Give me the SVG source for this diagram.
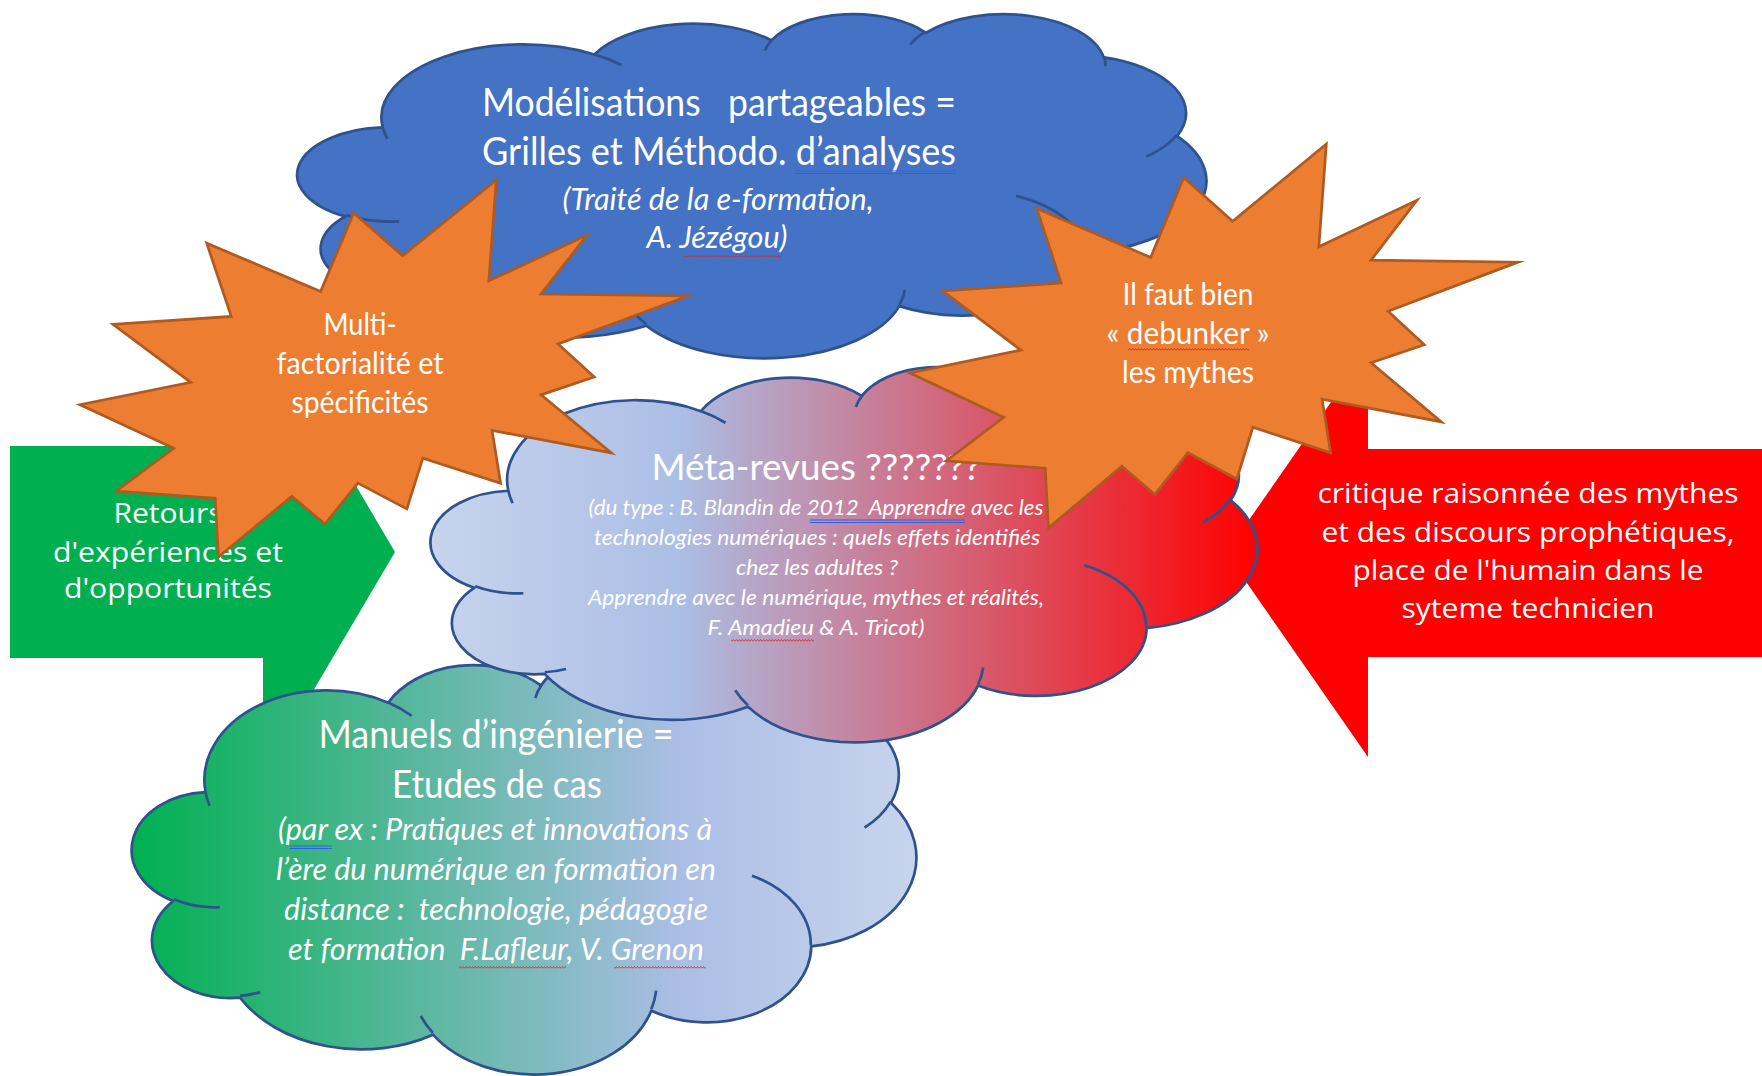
<svg xmlns="http://www.w3.org/2000/svg" width="1762" height="1076" viewBox="0 0 1762 1076">
<defs>
<style>
.cloud{stroke:#2F528F;stroke-width:2.7;stroke-linejoin:round}
.crease{fill:none;stroke:#2F528F;stroke-width:2.7}
.star{fill:#ED7D31;stroke:#AE5A21;stroke-width:2.7;stroke-linejoin:miter;stroke-miterlimit:10}
.t{font-family:Lato,'Liberation Sans',sans-serif;fill:#FFFFFF;text-anchor:middle}
.ti{font-family:Lato,'Liberation Sans',sans-serif;font-style:italic;fill:#FFFFFF;text-anchor:middle}
.ta{font-family:'Open Sans','Liberation Sans',sans-serif;fill:#FFFFFF;text-anchor:middle}
.blueul{stroke:#2E62E6;stroke-width:1;fill:none}
</style>
<linearGradient id="gMeta" x1="0" y1="0" x2="1" y2="0">
<stop offset="0" stop-color="#C7D4ED"/>
<stop offset="0.3" stop-color="#ABBEE5"/>
<stop offset="1" stop-color="#FF0000"/>
</linearGradient>
<linearGradient id="gMan" x1="0" y1="0" x2="1" y2="0">
<stop offset="0" stop-color="#00B050"/>
<stop offset="0.7" stop-color="#ABBEE5"/>
<stop offset="1" stop-color="#C7D4ED"/>
</linearGradient>
<pattern id="wavy" width="3" height="3" patternUnits="userSpaceOnUse">
<path d="M0 2.5 L1.5 0.5 L3 2.5" fill="none" stroke="#E02020" stroke-width="0.8"/>
</pattern>
<path id="cloudOutline" vector-effect="non-scaling-stroke" d="M3900 14370 A6753 9190 0 0 1 14006 5203 A5333 7267 0 0 1 22457 3433 A4365 5945 0 0 1 29834 2482 A4857 6595 0 0 1 38319 5578 A5333 7273 0 0 1 41820 15462 A6775 9220 0 0 1 37406 30205 A5785 7867 0 0 1 28558 36815 A6752 9215 0 0 1 16482 39266 A7720 10543 0 0 1 5806 35473 A4360 5918 0 0 1 2115 25551 A4345 5945 0 0 1 3900 14370 Z"/>
<path id="cloudCreases" fill="none" vector-effect="non-scaling-stroke" d="M4693 26177 A4345 5945 0 0 1 2159 25380 M6928 34899 A4360 5918 0 0 1 5820 35280 M16478 39090 A6752 9215 0 0 1 15810 37350 M28827 34751 A6752 9215 0 0 1 28560 36660 M34129 22954 A5785 7867 0 0 1 37380 30090 M41798 15354 A5333 7273 0 0 1 40350 18030 M38324 5426 A4857 6595 0 0 1 38400 6690 M29078 3952 A4857 6595 0 0 1 29820 2340 M22141 4720 A4365 5945 0 0 1 22500 3329 M14000 5192 A6753 9190 0 0 1 15299 6540 M4127 15789 A6753 9190 0 0 1 3900 14370"/>
<polygon id="seal" vector-effect="non-scaling-stroke" points="11462,4342 14790,0 14525,5777 18007,3172 16380,6532 21600,6645 16985,9402 18270,11290 16380,12310 18877,15632 14640,14350 14942,17370 12180,15935 11612,18842 9872,17370 8700,19712 7527,18125 4917,21600 4805,18240 1285,17825 3330,15370 0,12877 3935,11592 1172,8270 5372,7817 4502,3625 8550,6382 9722,1887"/>
</defs>

<rect x="0" y="0" width="1762" height="1076" fill="#FFFFFF"/>

<g id="connectors"/>

<g id="node-retours">
<polygon points="10,446 263,446 263,328 395,552 263,776 263,658 10,658" fill="#00B050"/>
<text class="ta" x="168" y="523" font-size="28" textLength="109" lengthAdjust="spacingAndGlyphs">Retours</text>
<text class="ta" x="168" y="562" font-size="28" textLength="230" lengthAdjust="spacingAndGlyphs">d'expériences et</text>
<text class="ta" x="168" y="598" font-size="28" textLength="208" lengthAdjust="spacingAndGlyphs">d'opportunités</text>
</g>

<g id="node-critique">
<polygon points="1762,449 1368,449 1368,349 1226,553 1368,757 1368,657 1762,657" fill="#FF0000"/>
<text class="ta" x="1528" y="503" font-size="28" textLength="421" lengthAdjust="spacingAndGlyphs">critique raisonnée des mythes</text>
<text class="ta" x="1528" y="542" font-size="28" textLength="413" lengthAdjust="spacingAndGlyphs">et des discours prophétiques,</text>
<text class="ta" x="1528" y="580" font-size="28" textLength="351" lengthAdjust="spacingAndGlyphs">place de l'humain dans le</text>
<text class="ta" x="1528" y="618" font-size="28" textLength="253" lengthAdjust="spacingAndGlyphs">syteme technicien</text>
</g>

<g id="node-modelisations">
<use href="#cloudOutline" class="cloud" fill="#4472C4" transform="translate(301 13) scale(0.0209491 0.0079630)"/>
<use href="#cloudCreases" class="crease" transform="translate(301 13) scale(0.0209491 0.0079630)"/>
<text class="t" x="719" y="116" font-size="38" textLength="474" lengthAdjust="spacingAndGlyphs" xml:space="preserve">Modélisations   partageables =</text>
<text class="t" x="719" y="165" font-size="38" textLength="474" lengthAdjust="spacingAndGlyphs">Grilles et Méthodo. d’analyses</text>
<text class="ti" x="718" y="210" font-size="30" textLength="311" lengthAdjust="spacingAndGlyphs">(Traité de la e-formation,</text>
<text class="ti" x="717" y="248" font-size="30" textLength="141" lengthAdjust="spacingAndGlyphs">A. Jézégou)</text>
<path class="blueul" d="M795 171 H956 M795 173.5 H956"/>
<rect x="683" y="255" width="99" height="3" fill="url(#wavy)"/>
</g>

<g id="node-manuels">
<use href="#cloudOutline" class="cloud" fill="url(#gMan)" transform="translate(135 652) scale(0.0180787 0.0097454)"/>
<use href="#cloudCreases" class="crease" transform="translate(135 652) scale(0.0180787 0.0097454)"/>
<text class="t" x="496" y="748" font-size="38" textLength="355" lengthAdjust="spacingAndGlyphs">Manuels d’ingénierie =</text>
<text class="t" x="497" y="798" font-size="38" textLength="210" lengthAdjust="spacingAndGlyphs">Etudes de cas</text>
<text class="ti" x="495" y="840" font-size="30" textLength="434" lengthAdjust="spacingAndGlyphs">(par ex : Pratiques et innovations à</text>
<text class="ti" x="496" y="880" font-size="30" textLength="440" lengthAdjust="spacingAndGlyphs">l’ère du numérique en formation en</text>
<text class="ti" x="496" y="920" font-size="30" textLength="424" lengthAdjust="spacingAndGlyphs" xml:space="preserve">distance :  technologie, pédagogie</text>
<text class="ti" x="496" y="960" font-size="30" textLength="416" lengthAdjust="spacingAndGlyphs" xml:space="preserve">et formation  F.Lafleur, V. Grenon</text>
<path class="blueul" d="M290 846 H332 M290 848.5 H332"/>
<rect x="459" y="966" width="107" height="3" fill="url(#wavy)"/>
<rect x="614" y="966" width="92" height="3" fill="url(#wavy)"/>
</g>

<g id="node-meta">
<use href="#cloudOutline" class="cloud" fill="url(#gMeta)" transform="translate(434 366) scale(0.0190509 0.0086806)"/>
<use href="#cloudCreases" class="crease" transform="translate(434 366) scale(0.0190509 0.0086806)"/>
<text class="t" x="816" y="480" font-size="36" textLength="329" lengthAdjust="spacingAndGlyphs">Méta-revues ???????</text>
<text class="ti" x="816" y="515" font-size="22" textLength="455" lengthAdjust="spacingAndGlyphs" xml:space="preserve">(du type : B. Blandin de 2012  Apprendre avec les</text>
<text class="ti" x="817" y="545" font-size="22" textLength="446" lengthAdjust="spacingAndGlyphs">technologies numériques : quels effets identifiés</text>
<text class="ti" x="817" y="575" font-size="22" textLength="162" lengthAdjust="spacingAndGlyphs">chez les adultes ?</text>
<text class="ti" x="816" y="605" font-size="22" textLength="456" lengthAdjust="spacingAndGlyphs">Apprendre avec le numérique, mythes et réalités,</text>
<text class="ti" x="816" y="635" font-size="22" textLength="217" lengthAdjust="spacingAndGlyphs">F. Amadieu &amp; A. Tricot)</text>
<path class="blueul" d="M810 520 H965 M810 522.5 H965"/>
<rect x="731" y="639" width="83" height="3" fill="url(#wavy)"/>
</g>

<g id="node-multifactorialite">
<use href="#seal" class="star" transform="translate(80 180) scale(0.0281481 0.0174537)"/>
<text class="t" x="360" y="335" font-size="30" textLength="73" lengthAdjust="spacingAndGlyphs">Multi-</text>
<text class="t" x="360" y="374" font-size="30" textLength="167" lengthAdjust="spacingAndGlyphs">factorialité et</text>
<text class="t" x="360" y="413" font-size="30" textLength="137" lengthAdjust="spacingAndGlyphs">spécificités</text>
</g>

<g id="node-debunker">
<use href="#seal" class="star" transform="translate(910 144) scale(0.0281481 0.0177778)"/>
<text class="t" x="1188" y="305" font-size="30" textLength="131" lengthAdjust="spacingAndGlyphs">Il faut bien</text>
<text class="t" x="1188" y="344" font-size="30" textLength="163" lengthAdjust="spacingAndGlyphs">« debunker »</text>
<text class="t" x="1188" y="383" font-size="30" textLength="132" lengthAdjust="spacingAndGlyphs">les mythes</text>
<rect x="1128" y="348" width="121" height="3" fill="url(#wavy)"/>
</g>
</svg>
